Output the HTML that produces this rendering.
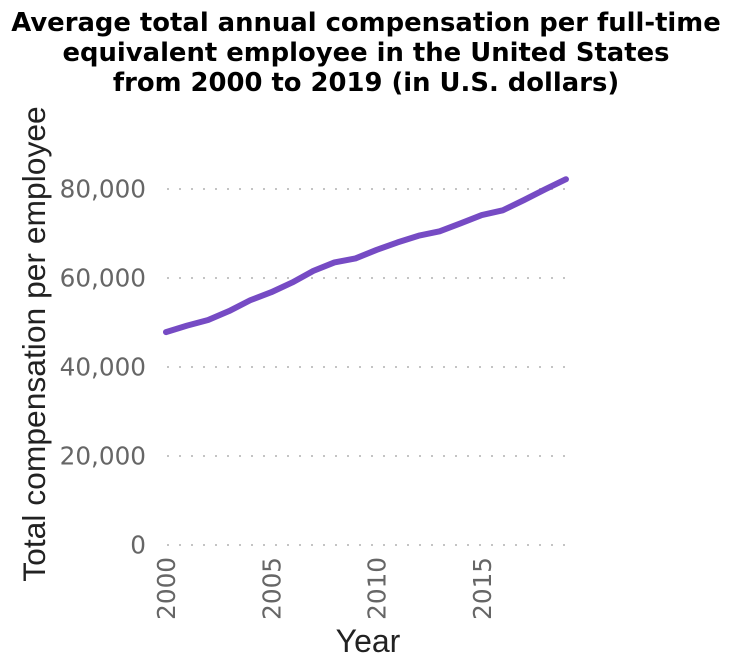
<!DOCTYPE html>
<html>
<head>
<meta charset="utf-8">
<style>
html,body{margin:0;padding:0;background:#fff;}
svg{display:block;}
.title{font-family:"DejaVu Sans",sans-serif;font-weight:bold;font-size:25.85px;fill:#000;text-anchor:middle;}
.tick{font-family:"DejaVu Sans",sans-serif;font-size:24.7px;fill:#666;}
.axis-title{font-family:"Liberation Sans",sans-serif;font-size:32px;fill:#222;text-anchor:middle;}
</style>
</head>
<body>
<svg id="chart" width="732" height="668" viewBox="0 0 732 668" xmlns="http://www.w3.org/2000/svg">
  <g>
    <text class="title" x="366" y="31">Average total annual compensation per full-time</text>
    <text class="title" x="366" y="61">equivalent employee in the United States</text>
    <text class="title" x="366" y="91">from 2000 to 2019 (in U.S. dollars)</text>
  </g>
  <g id="grid"></g>
  <g id="yticks"></g>
  <g id="xticks"></g>
  <path id="line" fill="none" stroke="#764bc4" stroke-width="6" stroke-linecap="round" stroke-linejoin="round"></path>
  <text class="axis-title" style="font-size:31.8px" transform="translate(45,344) rotate(-90)">Total compensation per employee</text>
  <text class="axis-title" x="368" y="652">Year</text>
</svg>
<script>
const years = [2000,2001,2002,2003,2004,2005,2006,2007,2008,2009,2010,2011,2012,2013,2014,2015,2016,2017,2018,2019];
const compensation = [47850,49300,50560,52580,55000,56800,59000,61600,63500,64400,66300,68000,69500,70500,72300,74150,75200,77500,79900,82200];
const yTickValues = [0,20000,40000,60000,80000];
const yTickLabels = ['0','20,000','40,000','60,000','80,000'];
const xTickValues = [2000,2005,2010,2015];
const xTickLabels = ['2000','2005','2010','2015'];

const NS = 'http://www.w3.org/2000/svg';
function xScale(v){ return 166 + (v - 2000) * 21.05; }
function yScale(v){ return 545 - v * 356 / 80000; }

const grid = document.getElementById('grid');
const yticks = document.getElementById('yticks');
const xticks = document.getElementById('xticks');

yTickValues.forEach(function(v, i){
  const y = yScale(v);
  const ln = document.createElementNS(NS, 'line');
  
  
  ln.setAttribute('x1', 167);
  ln.setAttribute('x2', 567);
  ln.setAttribute('y1', y);
  ln.setAttribute('y2', y);
  ln.setAttribute('stroke', '#c4c4c4');
  ln.setAttribute('stroke-width', '2');
  ln.setAttribute('stroke-dasharray', '2 10');
  grid.appendChild(ln);
  const t = document.createElementNS(NS, 'text');
  
  
  t.setAttribute('class', 'tick');
  t.setAttribute('x', 146);
  t.setAttribute('y', y + 8.5);
  t.setAttribute('text-anchor', 'end');
  t.textContent = yTickLabels[i];
  yticks.appendChild(t);
});

xTickValues.forEach(function(v, i){
  const x = xScale(v);
  const t = document.createElementNS(NS, 'text');
  
  
  t.setAttribute('class', 'tick');
  t.setAttribute('text-anchor', 'end');
  t.setAttribute('transform', 'translate(' + (x + 9) + ',557) rotate(-90)');
  t.textContent = xTickLabels[i];
  xticks.appendChild(t);
});

let d = '';
years.forEach(function(yr, i){
  d += (i ? 'L' : 'M') + xScale(yr).toFixed(2) + ' ' + yScale(compensation[i]).toFixed(2);
});
document.getElementById('line').setAttribute('d', d);
</script>
</body>
</html>
